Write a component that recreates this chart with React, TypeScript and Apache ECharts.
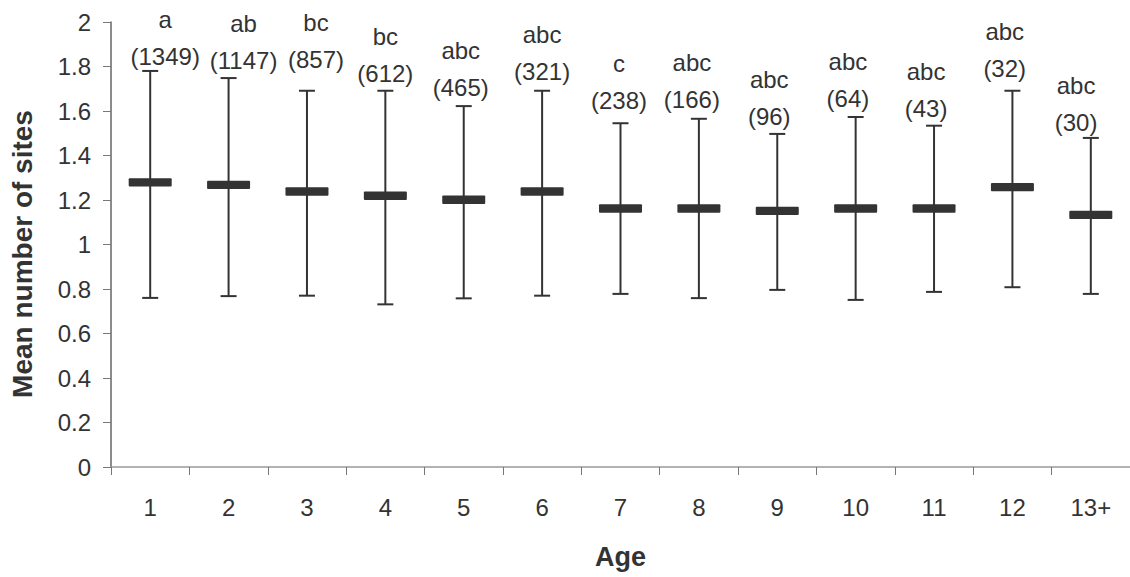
import React, { useEffect, useRef } from "react";
import * as echarts from "echarts";

// Age classes on the category axis
const ages = ["1", "2", "3", "4", "5", "6", "7", "8", "9", "10", "11", "12", "13+"];
// Mean number of sites per age class
const means = [1.279, 1.268, 1.238, 1.219, 1.201, 1.238, 1.162, 1.162, 1.151, 1.162, 1.162, 1.258, 1.133];
// Upper and lower ends of the error bars
const upper = [1.78, 1.748, 1.691, 1.691, 1.622, 1.691, 1.545, 1.565, 1.497, 1.573, 1.534, 1.691, 1.479];
const lower = [0.76, 0.768, 0.77, 0.731, 0.758, 0.77, 0.778, 0.759, 0.796, 0.751, 0.787, 0.808, 0.778];
// Significance groups and sample sizes
const groups = ["a", "ab", "bc", "bc", "abc", "abc", "c", "abc", "abc", "abc", "abc", "abc", "abc"];
const counts = [1349, 1147, 857, 612, 465, 321, 238, 166, 96, 64, 43, 32, 30];

// Label placement: pixels above the upper cap, and horizontal shift from the bar
const labelLift = [14, 18, 31, 17, 19, 19, 23, 19, 17, 19, 17, 22, 15];
const labelShift = [15, 15, 9, 0, -3, 0, -1.5, -7, -8, -7.7, -8, -7.7, -14.7];

const FONT = "'Liberation Sans', Arial, Helvetica, sans-serif";
const INK = "#333333";

export default function App() {
  const ref = useRef<HTMLDivElement>(null);

  useEffect(() => {
    if (!ref.current) return;
    const chart = echarts.init(ref.current, null, { renderer: "svg" });

    const data = ages.map((_, i) => [i, lower[i], upper[i], means[i]]);

    chart.setOption({
      animation: false,
      backgroundColor: "#ffffff",
      grid: { left: 111, top: 22, width: 1020, height: 445 },
      xAxis: {
        type: "category",
        data: ages,
        boundaryGap: true,
        axisLine: { lineStyle: { color: "#999999", width: 1.5 } },
        axisTick: { show: true, length: 8, lineStyle: { color: "#777777", width: 1 } },
        axisLabel: { fontSize: 24, color: INK, fontFamily: FONT, margin: 28 },
        name: "Age",
        nameLocation: "middle",
        nameGap: 76,
        nameTextStyle: { fontSize: 27, fontWeight: "bold", color: INK, fontFamily: FONT },
      },
      yAxis: {
        type: "value",
        min: 0,
        max: 2,
        interval: 0.2,
        splitLine: { show: false },
        axisLine: { show: true, lineStyle: { color: "#666666", width: 1.5 } },
        axisTick: { show: true, length: 8, lineStyle: { color: "#777777", width: 1 } },
        axisLabel: { fontSize: 24, color: INK, fontFamily: FONT, margin: 20 },
      },
      graphic: [
        {
          type: "text",
          x: 22,
          y: 254,
          rotation: Math.PI / 2,
          style: {
            text: "Mean number of sites",
            align: "center",
            verticalAlign: "middle",
            fontSize: 28,
            fontWeight: "bold",
            fontFamily: FONT,
            fill: INK,
          },
        },
      ],
      series: [
        {
          type: "custom",
          data,
          clip: false,
          renderItem: (params: any, api: any) => {
            const i = api.value(0);
            const top = api.coord([i, api.value(2)]);
            const bot = api.coord([i, api.value(1)]);
            const mid = api.coord([i, api.value(3)]);
            const cx = top[0];
            const idx = params.dataIndex;
            const countY = top[1] - labelLift[idx];
            const tx = cx + labelShift[idx];
            const line = { stroke: INK, lineWidth: 2 };
            return {
              type: "group",
              children: [
                { type: "line", shape: { x1: cx, y1: top[1], x2: cx, y2: bot[1] }, style: line },
                { type: "line", shape: { x1: cx - 8, y1: top[1], x2: cx + 8, y2: top[1] }, style: line },
                { type: "line", shape: { x1: cx - 8, y1: bot[1], x2: cx + 8, y2: bot[1] }, style: line },
                {
                  type: "rect",
                  shape: { x: cx - 21.5, y: mid[1] - 4.2, width: 43, height: 8.4, r: 1 },
                  style: { fill: INK },
                },
                {
                  type: "text",
                  x: tx,
                  y: countY,
                  style: {
                    text: "(" + counts[idx] + ")",
                    align: "center",
                    verticalAlign: "middle",
                    fontSize: 24,
                    fontFamily: FONT,
                    fill: INK,
                  },
                },
                {
                  type: "text",
                  x: tx,
                  y: countY - 37,
                  style: {
                    text: groups[idx],
                    align: "center",
                    verticalAlign: "middle",
                    fontSize: 24,
                    fontFamily: FONT,
                    fill: INK,
                  },
                },
              ],
            };
          },
        },
      ],
    });

    return () => chart.dispose();
  }, []);

  return (
    <div
      ref={ref}
      style={{ position: "absolute", left: 0, top: 0, width: 1130, height: 577, background: "#fff" }}
    />
  );
}
